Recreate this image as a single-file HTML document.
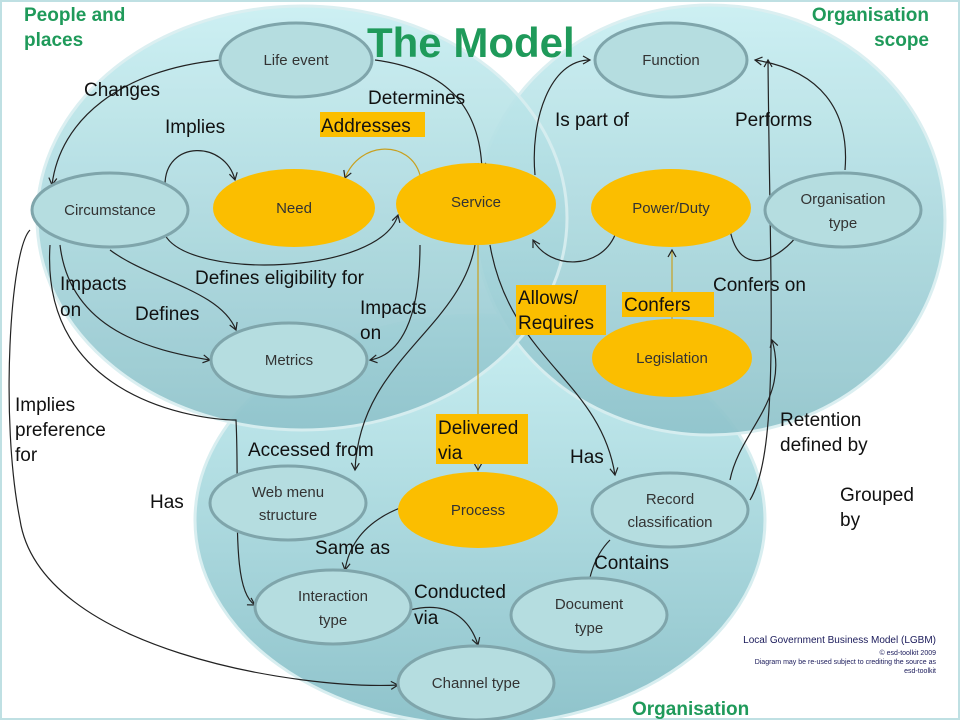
<!DOCTYPE html>
<html><head><meta charset="utf-8"><style>
body{margin:0;background:#fff}
svg{display:block}
text{font-family:"Liberation Sans",sans-serif}
</style></head><body>
<svg width="960" height="720" viewBox="0 0 960 720" xmlns="http://www.w3.org/2000/svg">
<defs>
<linearGradient id="g" x1="0" y1="0" x2="0" y2="1">
<stop offset="0" stop-color="#c9eff2"/><stop offset="1" stop-color="#8fc3cb"/></linearGradient>
<marker id="a" markerWidth="10" markerHeight="10" refX="8" refY="5" orient="auto" markerUnits="userSpaceOnUse"><path d="M1,1 L8,5 L1,9" fill="none" stroke="#222" stroke-width="1.2"/></marker>
</defs>
<rect x="0" y="0" width="960" height="720" fill="#fff" stroke="#bfe0e3" stroke-width="4"/>
<ellipse cx="480" cy="520" rx="285" ry="205" fill="url(#g)" stroke="#d8eef0" stroke-width="3"/>
<ellipse cx="710" cy="220" rx="235" ry="215" fill="url(#g)" stroke="#d8eef0" stroke-width="3" opacity="0.92"/>
<ellipse cx="302" cy="218" rx="265" ry="212" fill="url(#g)" stroke="#d8eef0" stroke-width="3" opacity="0.92"/>
<g fill="none" stroke="#222" stroke-width="1.2">
<path d="M220,60 C120,70 60,120 52,185" marker-end="url(#a)"/>
<path d="M375,60 C450,70 480,110 482,170" marker-end="url(#a)"/>
<path d="M165,185 C165,140 225,140 235,180" marker-end="url(#a)"/>
<path d="M420,175 C410,140 360,140 345,178" marker-end="url(#a)" stroke="#c8a020"/>
<path d="M165,235 C190,280 380,275 398,215" marker-end="url(#a)"/>
<path d="M60,245 C70,330 150,350 210,360" marker-end="url(#a)"/>
<path d="M110,250 C150,280 220,290 236,330" marker-end="url(#a)"/>
<path d="M420,245 C420,320 400,355 370,360" marker-end="url(#a)"/>
<path d="M30,230 C10,250 0,420 20,520 C40,650 300,690 398,685" marker-end="url(#a)"/>
<path d="M50,245 C40,400 200,420 236,420 C240,500 230,590 255,605" marker-end="url(#a)"/>
<path d="M475,245 C460,330 360,360 355,470" marker-end="url(#a)"/>
<path d="M478,245 L478,470" marker-end="url(#a)" stroke="#c8a020"/>
<path d="M490,245 C510,360 600,380 615,475" marker-end="url(#a)"/>
<path d="M535,175 C530,120 550,60 590,60" marker-end="url(#a)"/>
<path d="M845,170 C850,110 820,70 755,60" marker-end="url(#a)"/>
<path d="M730,230 C740,280 780,260 800,232" marker-end="url(#a)"/>
<path d="M615,235 C600,270 550,270 533,240" marker-end="url(#a)"/>
<path d="M672,330 L672,250" marker-end="url(#a)" stroke="#c8a020"/>
<path d="M750,500 C780,450 770,300 768,60" marker-end="url(#a)"/>
<path d="M730,480 C740,430 790,400 772,340" marker-end="url(#a)"/>
<path d="M610,540 C590,560 588,590 590,580" marker-end="url(#a)"/>
<path d="M400,508 C370,520 350,540 345,570" marker-end="url(#a)"/>
<path d="M410,610 C450,600 470,620 478,645" marker-end="url(#a)"/>
</g>
<g stroke="#7fa5ab" stroke-width="3">
<ellipse cx="296" cy="60" rx="76" ry="37" fill="#b5dde0"/>
<ellipse cx="671" cy="60" rx="76" ry="37" fill="#b5dde0"/>
<ellipse cx="110" cy="210" rx="78" ry="37" fill="#b5dde0"/>
<ellipse cx="843" cy="210" rx="78" ry="37" fill="#b5dde0"/>
<ellipse cx="289" cy="360" rx="78" ry="37" fill="#b5dde0"/>
<ellipse cx="288" cy="503" rx="78" ry="37" fill="#b5dde0"/>
<ellipse cx="670" cy="510" rx="78" ry="37" fill="#b5dde0"/>
<ellipse cx="333" cy="607" rx="78" ry="37" fill="#b5dde0"/>
<ellipse cx="589" cy="615" rx="78" ry="37" fill="#b5dde0"/>
<ellipse cx="476" cy="683" rx="78" ry="37" fill="#b5dde0"/>
</g>
<g fill="#fbbe00">
<ellipse cx="294" cy="208" rx="81" ry="39"/>
<ellipse cx="476" cy="204" rx="80" ry="41"/>
<ellipse cx="671" cy="208" rx="80" ry="39"/>
<ellipse cx="672" cy="358" rx="80" ry="39"/>
<ellipse cx="478" cy="510" rx="80" ry="38"/>
</g>
<g font-size="15" fill="#333" text-anchor="middle">
<text x="296" y="65">Life event</text><text x="671" y="65">Function</text>
<text x="110" y="215">Circumstance</text>
<text x="843" y="204">Organisation</text><text x="843" y="228">type</text>
<text x="289" y="365">Metrics</text>
<text x="288" y="497">Web menu</text><text x="288" y="520">structure</text>
<text x="670" y="504">Record</text><text x="670" y="527">classification</text>
<text x="333" y="601">Interaction</text><text x="333" y="625">type</text>
<text x="589" y="609">Document</text><text x="589" y="633">type</text>
<text x="476" y="688">Channel type</text>
<text x="294" y="213">Need</text><text x="476" y="207">Service</text>
<text x="671" y="213">Power/Duty</text><text x="672" y="363">Legislation</text>
<text x="478" y="515">Process</text>
</g>
<g fill="#fbbe00">
<rect x="320" y="112" width="105" height="25"/><rect x="516" y="285" width="90" height="50"/>
<rect x="622" y="292" width="92" height="25"/><rect x="436" y="414" width="92" height="50"/>
</g>
<g font-size="19" fill="#111">
<text x="84" y="96">Changes</text><text x="368" y="104">Determines</text>
<text x="165" y="133">Implies</text><text x="321" y="132">Addresses</text>
<text x="555" y="126">Is part of</text><text x="735" y="126">Performs</text>
<text x="195" y="284">Defines eligibility for</text>
<text x="60" y="290">Impacts</text><text x="60" y="316">on</text>
<text x="135" y="320">Defines</text>
<text x="360" y="314">Impacts</text><text x="360" y="339">on</text>
<text x="518" y="304">Allows/</text><text x="518" y="329">Requires</text>
<text x="624" y="311">Confers</text><text x="713" y="291">Confers on</text>
<text x="15" y="411">Implies</text><text x="15" y="436">preference</text><text x="15" y="461">for</text>
<text x="248" y="456">Accessed  from</text>
<text x="438" y="434">Delivered</text><text x="438" y="459">via</text>
<text x="570" y="463">Has</text>
<text x="780" y="426">Retention</text><text x="780" y="451">defined by</text>
<text x="840" y="501">Grouped</text><text x="840" y="526">by</text>
<text x="150" y="508">Has</text><text x="315" y="554">Same as</text>
<text x="594" y="569">Contains</text>
<text x="414" y="598">Conducted</text><text x="414" y="624">via</text>
</g>
<g fill="#1f9a5a" font-weight="bold" font-size="19">
<text x="24" y="21">People and</text><text x="24" y="46">places</text>
<text x="929" y="21" text-anchor="end">Organisation</text><text x="929" y="46" text-anchor="end">scope</text>
<text x="632" y="715">Organisation</text>
<text x="367" y="57" font-size="42">The Model</text>
</g>
<g fill="#1a1a5a" text-anchor="end">
<text x="936" y="643" font-size="10">Local Government Business Model (LGBM)</text>
<text x="936" y="655" font-size="7">© esd-toolkit 2009</text>
<text x="936" y="664" font-size="7">Diagram may be re-used subject to crediting the source as</text>
<text x="936" y="673" font-size="7">esd-toolkit</text>
</g>
</svg>
</body></html>
